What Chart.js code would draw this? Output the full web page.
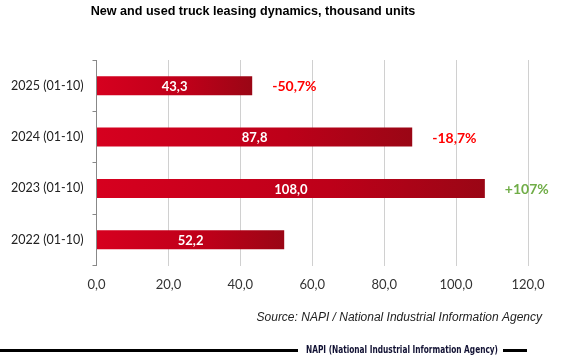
<!DOCTYPE html>
<html>
<head>
<meta charset="utf-8">
<script src="https://cdn.jsdelivr.net/npm/chart.js@4.4.1/dist/chart.umd.min.js"></script>
<style>
html,body{margin:0;padding:0;background:#fff;}
#wrap{width:580px;height:357px;position:relative;}
canvas{display:block;}
</style>
</head>
<body>
<div id="wrap"><canvas id="c" width="580" height="357"></canvas></div>
<script>
// ---- data ----
const categories = ['2025 (01-10)', '2024 (01-10)', '2023 (01-10)', '2022 (01-10)'];
const values = [43.3, 87.8, 108.0, 52.2];
const valueLabels = ['43,3', '87,8', '108,0', '52,2'];
const changeLabels = ['-50,7%', '-18,7%', '+107%', ''];
const changeColors = ['#ff0000', '#ff0000', '#70ad47', '#ff0000'];
const xTicks = [0, 20, 40, 60, 80, 100, 120];
const titleText = 'New and used truck leasing dynamics, thousand units';
const sourceText = 'Source: NAPI / National Industrial Information Agency';
const footerText = 'NAPI (National Industrial Information Agency)';

function fmt(v){ return v.toFixed(1).replace('.', ','); }

function barGradient(ctx){
  const chart = ctx.chart;
  const xs = chart.scales && chart.scales.x;
  if (!chart.chartArea || !xs || ctx.type !== 'data') return '#c00018';
  const v = ctx.raw;
  const x0 = xs.getPixelForValue(0), x1 = xs.getPixelForValue(v);
  if (!isFinite(x0) || !isFinite(x1) || x1 === x0) return '#c00018';
  const g = chart.ctx.createLinearGradient(x0, 0, x1, 0);
  g.addColorStop(0, '#d6001f');
  g.addColorStop(0.6, '#bd0019');
  g.addColorStop(1, '#9a0615');
  return g;
}

const decor = {
  id: 'decor',
  afterDatasetsDraw(chart){
    const c = chart.ctx;
    const meta = chart.getDatasetMeta(0);
    c.save();
    c.textBaseline = 'middle';
    meta.data.forEach((bar, i) => {
      c.font = 'bold 13px Lato, "Open Sans", sans-serif';
      c.fillStyle = '#ffffff';
      c.textAlign = 'center';
      c.fillText(valueLabels[i], (bar.x + bar.base) / 2, bar.y + 1);
      if (changeLabels[i]) {
        c.fillStyle = changeColors[i];
        c.textAlign = 'left';
        c.font = 'bold 14px Lato, "Open Sans", sans-serif';
        c.fillText(changeLabels[i], bar.x + 20, bar.y + 1);
      }
    });
    c.restore();
  },
  afterDraw(chart){
    const c = chart.ctx;
    c.save();
    // title
    c.fillStyle = '#000';
    c.textAlign = 'center';
    c.textBaseline = 'middle';
    c.font = 'bold 12.6px "Liberation Sans", Arial, sans-serif';
    c.fillText(titleText, 253, 12);
    // source
    c.font = 'italic 12px "Liberation Sans", Arial, sans-serif';
    c.fillStyle = '#222';
    c.textAlign = 'right';
    c.fillText(sourceText, 542, 318);
    // footer lines
    c.fillStyle = '#000';
    c.fillRect(0, 349, 298, 3);
    c.fillRect(503, 349, 24, 3);
    // footer text (condensed)
    c.font = 'bold 10px "Liberation Sans Narrow", "DejaVu Sans Condensed", sans-serif';
    const w = c.measureText(footerText).width;
    const target = 192;
    c.translate(306, 350.5);
    c.scale(target / w, 1);
    c.textAlign = 'left';
    c.fillStyle = '#111133';
    c.fillText(footerText, 0, 0);
    c.restore();
  }
};

new Chart(document.getElementById('c'), {
  type: 'bar',
  data: {
    labels: categories,
    datasets: [{
      data: values,
      backgroundColor: barGradient,
      borderWidth: 0,
      barPercentage: 0.37,
      categoryPercentage: 1.0
    }]
  },
  options: {
    indexAxis: 'y',
    responsive: false,
    animation: false,
    devicePixelRatio: 1,
    layout: { padding: { top: 60, right: 52, bottom: 0, left: 0 } },
    plugins: { legend: { display: false }, tooltip: { enabled: false }, title: { display: false } },
    scales: {
      x: {
        min: 0, max: 120,
        afterBuildTicks(scale){ scale.ticks = xTicks.map(v => ({ value: v })); },
        afterFit(scale){ scale.height = 91.5; },
        grid: { color: '#d0d0d0', drawTicks: false, lineWidth: 1 },
        border: { display: false },
        ticks: {
          padding: 12,
          color: '#333',
          font: { family: 'Lato, "Open Sans", sans-serif', size: 13 },
          callback: (v) => fmt(v)
        }
      },
      y: {
        afterFit(scale){ scale.width = 96.5; },
        grid: { offset: true, drawOnChartArea: false, tickLength: 4, color: '#888' },
        border: { color: '#888', width: 1 },
        ticks: {
          padding: 9,
          color: '#222',
          font: { family: 'Lato, "Open Sans", sans-serif', size: 12.5 }
        }
      }
    }
  },
  plugins: [decor]
});
</script>
</body>
</html>
